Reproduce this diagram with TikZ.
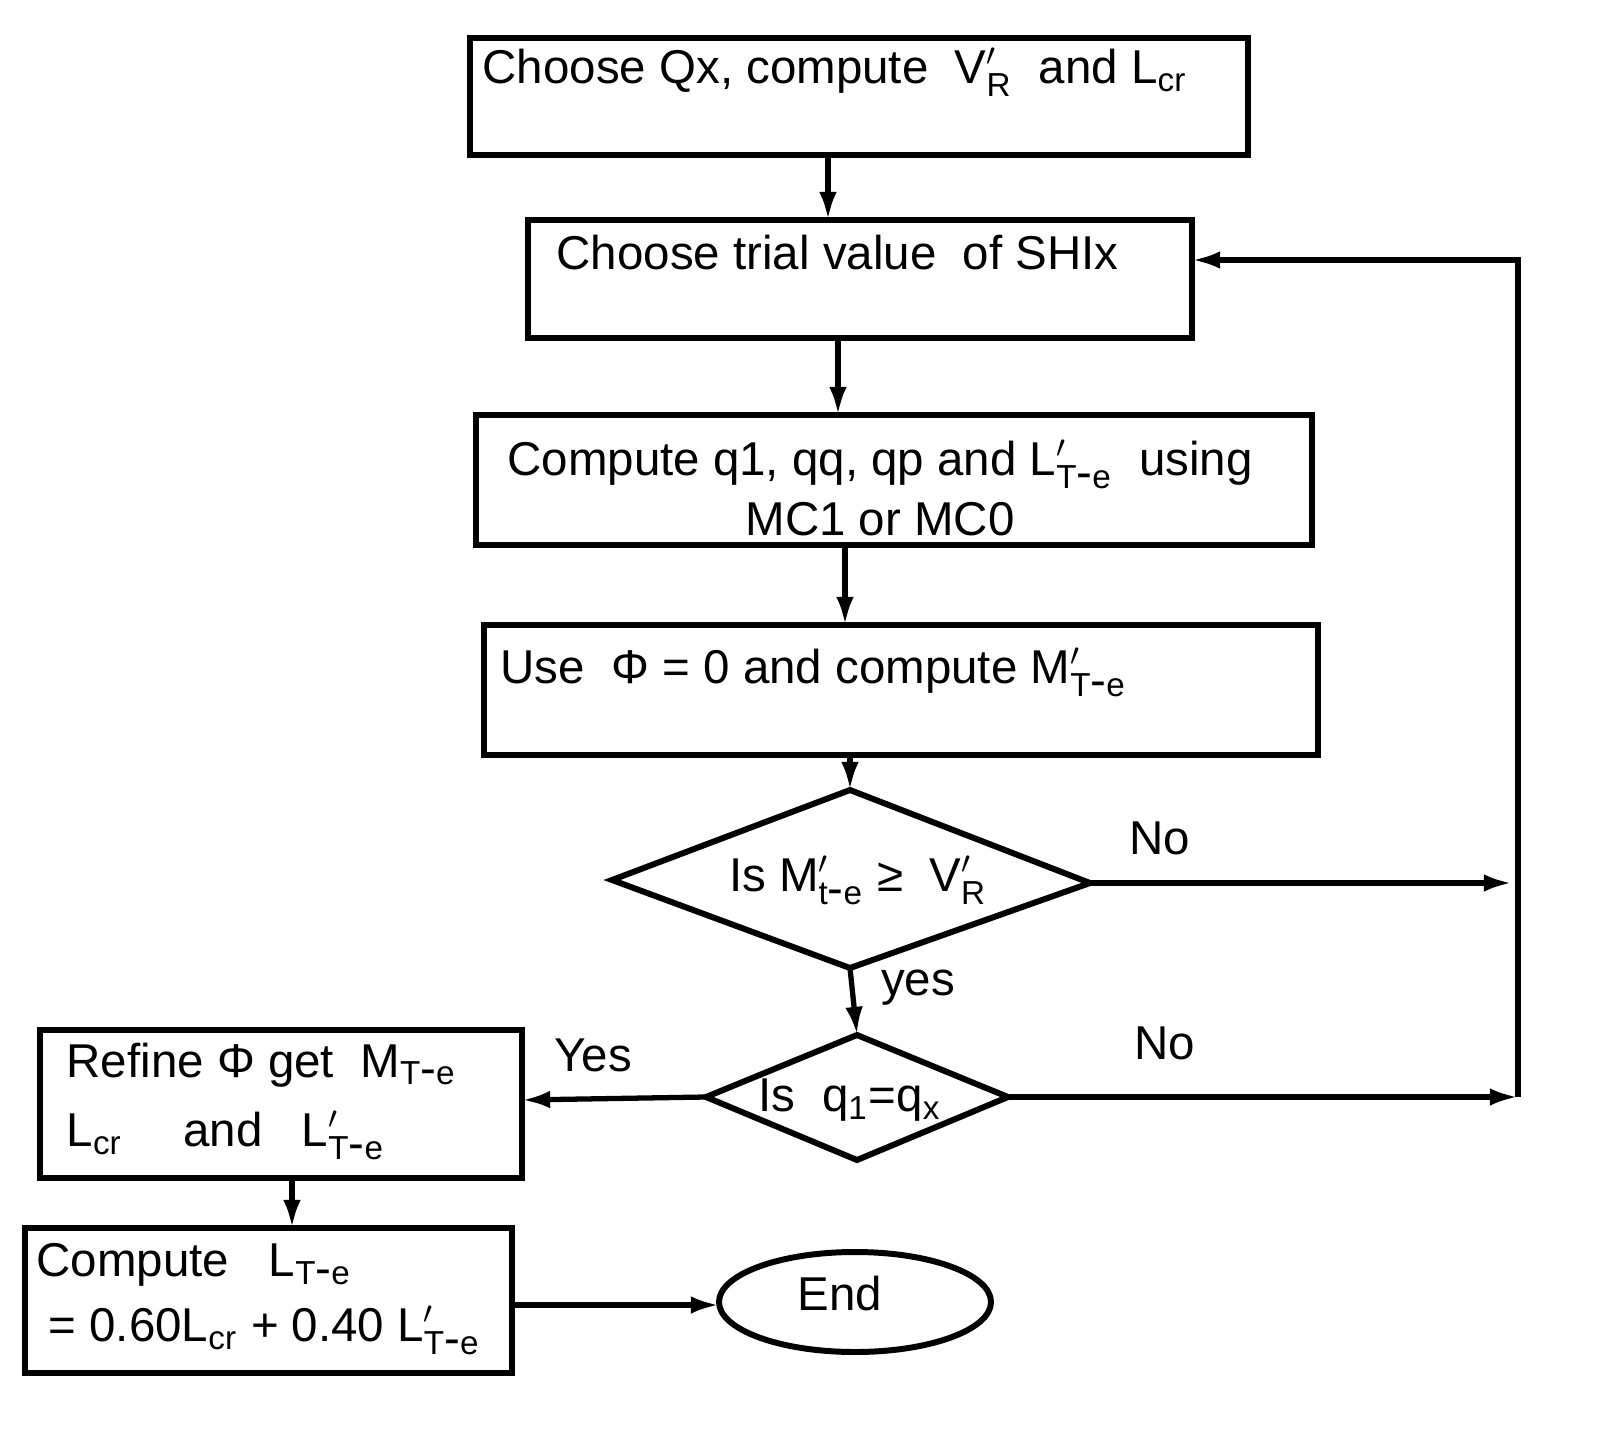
\documentclass[tikz,border=0pt]{standalone}
\usepackage{fontspec}
\setmainfont{Liberation Sans}
\usetikzlibrary{arrows.meta}
\newcommand{\Te}{\mathrm{T\mbox{-}e}}
\begin{document}
\begin{tikzpicture}[x=0.01cm,y=-0.01cm,
  box/.style={draw,line width=1.7pt},
  ln/.style={line width=1.5pt},
  ar/.style={ln,-{Latex[length=8pt,width=5pt]}},
  txt/.style={font=\fontsize{13.5}{17}\selectfont,inner sep=0pt}]
\useasboundingbox (0,0) rectangle (1599,1439);
\draw[box] (470,38) rectangle (1248,155);
\node[txt,anchor=west] (t1) at (482,72) {Choose Qx, compute \ V$_{\mathrm{R}}'$ \ and L$_{\mathrm{cr}}$};
\draw[box] (528,220) rectangle (1192,338);
\coordinate (b2r) at (1192,260);
\node[txt,anchor=west] (t2) at (556,253) {Choose trial value \ of SHIx};
\draw[box] (476,415) rectangle (1312,545);
\node[txt,align=center] (t3) at (880,488) {Compute q1, qq, qp and L$_{\Te}'$ \ using\\MC1 or MC0};
\draw[box] (484,625) rectangle (1318,755);
\node[txt,anchor=west] (t4) at (500,672) {Use \ Φ = 0 and compute M$_{\Te}'$};
\path (612,880) coordinate (d1l) (1090,883) coordinate (d1r) (850,790) coordinate (d1t) (850,968) coordinate (d1b);
\draw[box] (d1l) -- (d1t) -- (d1r) -- (d1b) -- cycle;
\node[txt] (t5) at (858,880) {Is M$_{\mathrm{t\mbox{-}e}}'$ ≥ \ V$_{\mathrm{R}}'$};
\path (706,1097) coordinate (d2l) (1008,1097) coordinate (d2r) (857,1035) coordinate (d2t) (857,1160) coordinate (d2b);
\draw[box] (d2l) -- (d2t) -- (d2r) -- (d2b) -- cycle;
\node[txt] (t6) at (850,1100) {Is \ q\textsubscript{1}=q\textsubscript{x}};
\draw[box] (40,1030) rectangle (522,1178);
\coordinate (rr) at (522,1100);
\node[txt,anchor=west] (t7) at (66,1065) {Refine Φ get \ M$_{\Te}$};
\node[txt,anchor=west] (t8) at (66,1135) {L$_{\mathrm{cr}}$ \quad and \ \ L$_{\Te}'$};
\draw[box] (25,1228) rectangle (512,1373);
\node[txt,anchor=west] (t9) at (36,1265) {Compute \ \ L$_{\Te}$};
\node[txt,anchor=west] (t10) at (48,1330) {= 0.60L$_{\mathrm{cr}}$ + 0.40 L$_{\Te}'$};
\coordinate (cr) at (512,1305);
\draw[box] (855,1302) ellipse (136 and 50);
\node[txt] (end) at (840,1294) {End};
\coordinate (endl) at (719,1305);
\draw[ar] (828,155) -- (828,220);
\draw[ar] (838,338) -- (838,415);
\draw[ar] (845,545) -- (845,625);
\draw[ar] (850,755) -- (d1t);
\draw[ar] (d1b) -- (d2t);
\node[txt] at (918,988) {yes};
\coordinate (n1) at (1512,883);
\draw[ar] (d1r) -- (n1);
\node[txt] at (1160,838) {No};
\coordinate (n2) at (1518,1097);
\draw[ar] (d2r) -- (n2);
\node[txt] at (1165,1043) {No};
\draw[ar] (n2) -- (1518,260) -- (b2r);
\draw[ar] (d2l) -- (rr);
\node[txt] at (593,1055) {Yes};
\draw[ar] (292,1178) -- (292,1228);
\draw[ar] (cr) -- (endl);
\end{tikzpicture}
\end{document}
